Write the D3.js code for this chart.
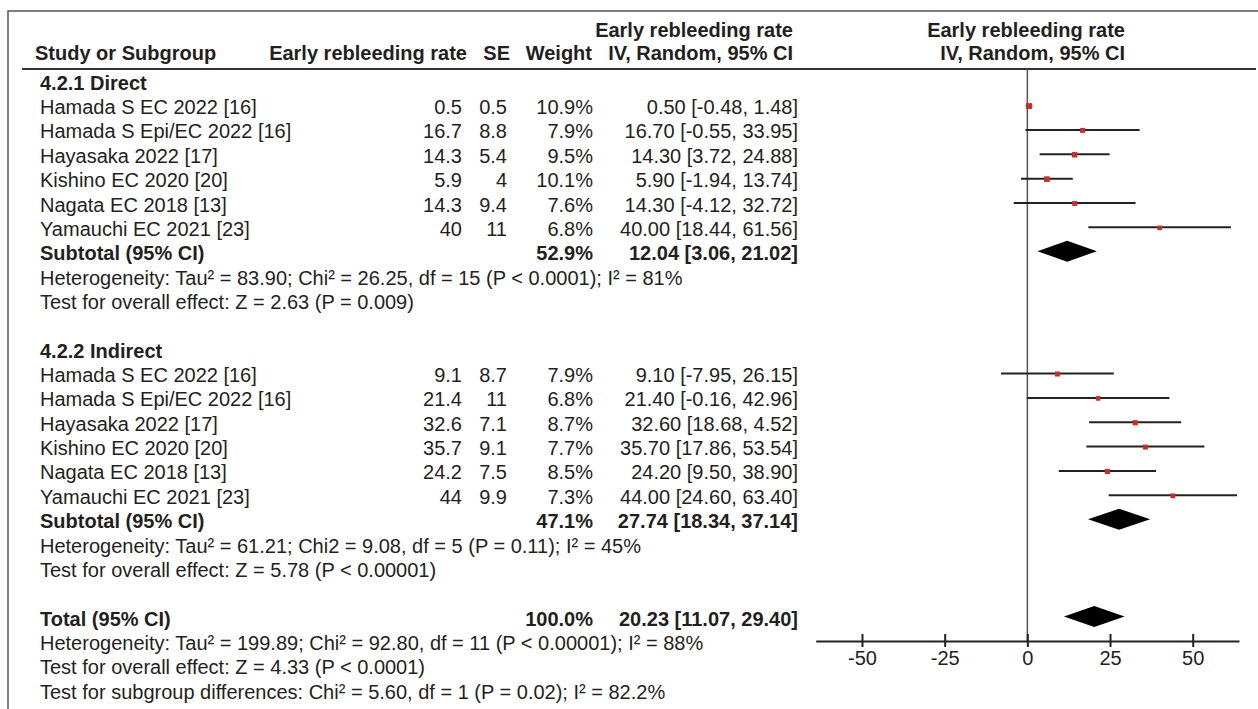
<!DOCTYPE html>
<html>
<head>
<meta charset="utf-8">
<script src="https://cdn.jsdelivr.net/npm/d3@7"></script>
<style>
  html, body { margin: 0; padding: 0; background: #fff; }
  svg { display: block; font-family: "Liberation Sans", Arial, sans-serif; }
</style>
</head>
<body>
<svg id="chart" width="1258" height="709"></svg>
<script>
// ---- Study data ----
const studies = [
  "Hamada S EC 2022 [16]",
  "Hamada S Epi/EC 2022 [16]",
  "Hayasaka 2022 [17]",
  "Kishino EC 2020 [20]",
  "Nagata EC 2018 [13]",
  "Yamauchi EC 2021 [23]"
];

// 4.2.1 Direct
const directRate   = [0.5, 16.7, 14.3, 5.9, 14.3, 40];
const directSE     = [0.5, 8.8, 5.4, 4, 9.4, 11];
const directWeight = [10.9, 7.9, 9.5, 10.1, 7.6, 6.8];
const directLow    = [-0.48, -0.55, 3.72, -1.94, -4.12, 18.44];
const directHigh   = [1.48, 33.95, 24.88, 13.74, 32.72, 61.56];
const directCiText = [
  "0.50 [-0.48, 1.48]", "16.70 [-0.55, 33.95]", "14.30 [3.72, 24.88]",
  "5.90 [-1.94, 13.74]", "14.30 [-4.12, 32.72]", "40.00 [18.44, 61.56]"
];

// 4.2.2 Indirect
const indirectRate   = [9.1, 21.4, 32.6, 35.7, 24.2, 44];
const indirectSE     = [8.7, 11, 7.1, 9.1, 7.5, 9.9];
const indirectWeight = [7.9, 6.8, 8.7, 7.7, 8.5, 7.3];
const indirectLow    = [-7.95, -0.16, 18.68, 17.86, 9.50, 24.60];
const indirectHigh   = [26.15, 42.96, 46.52, 53.54, 38.90, 63.40];
const indirectCiText = [
  "9.10 [-7.95, 26.15]", "21.40 [-0.16, 42.96]", "32.60 [18.68, 4.52]",
  "35.70 [17.86, 53.54]", "24.20 [9.50, 38.90]", "44.00 [24.60, 63.40]"
];

// Pooled estimates: Direct subtotal, Indirect subtotal, Total
const pooledLabel  = ["Subtotal (95% CI)", "Subtotal (95% CI)", "Total (95% CI)"];
const pooledEst    = [12.04, 27.74, 20.23];
const pooledLow    = [3.06, 18.34, 11.07];
const pooledHigh   = [21.02, 37.14, 29.40];
const pooledWeight = ["52.9%", "47.1%", "100.0%"];

const directNotes = [
  "Heterogeneity: Tau\u00B2 = 83.90; Chi\u00B2 = 26.25, df = 15 (P < 0.0001); I\u00B2 = 81%",
  "Test for overall effect: Z = 2.63 (P = 0.009)"
];
const indirectNotes = [
  "Heterogeneity: Tau\u00B2 = 61.21; Chi2 = 9.08, df = 5 (P = 0.11); I\u00B2 = 45%",
  "Test for overall effect: Z = 5.78 (P < 0.00001)"
];
const totalNotes = [
  "Heterogeneity: Tau\u00B2 = 199.89; Chi\u00B2 = 92.80, df = 11 (P < 0.00001); I\u00B2 = 88%",
  "Test for overall effect: Z = 4.33 (P < 0.0001)",
  "Test for subgroup differences: Chi\u00B2 = 5.60, df = 1 (P = 0.02); I\u00B2 = 82.2%"
];

const groupTitles = ["4.2.1 Direct", "4.2.2 Indirect"];
const axisTicks = [-50, -25, 0, 25, 50];

// ---- Layout ----
const svg = d3.select("#chart");
const ink = "#231f20";
const rowY = i => 82.7 + i * 24.36;   // cap-centre of row i
const base = 7;                        // baseline offset from cap-centre

const col = { study: 40, rate: 462, se: 507, weight: 593, ci: 798 };
const x = d3.scaleLinear().domain([-64, 64]).range([815.7, 1239]);
const axisY = 641;

// frame
svg.append("path")
  .attr("d", "M8,709 L8,11 L1258,11")
  .attr("fill", "none").attr("stroke", "#555").attr("stroke-width", 1.5);
svg.append("line")
  .attr("x1", 22).attr("x2", 1256).attr("y1", 69).attr("y2", 69)
  .attr("stroke", "#333").attr("stroke-width", 2);

function txt(str, xPos, y, opts = {}) {
  return svg.append("text")
    .attr("x", xPos).attr("y", y)
    .attr("text-anchor", opts.anchor || "start")
    .attr("font-size", opts.size || 20)
    .attr("font-weight", opts.bold ? "bold" : "normal")
    .attr("fill", ink)
    .text(str);
}

// headers
txt("Study or Subgroup", 35, 60, { bold: true });
txt("Early rebleeding rate", 467, 60, { bold: true, anchor: "end" });
txt("SE", 510, 60, { bold: true, anchor: "end" });
txt("Weight", 592, 60, { bold: true, anchor: "end" });
txt("Early rebleeding rate", 793, 37, { bold: true, anchor: "end" });
txt("IV, Random, 95% CI", 793, 60, { bold: true, anchor: "end" });
txt("Early rebleeding rate", 1125, 37, { bold: true, anchor: "end" });
txt("IV, Random, 95% CI", 1125, 60, { bold: true, anchor: "end" });

// zero reference line
svg.append("line")
  .attr("x1", x(0)).attr("x2", x(0)).attr("y1", 69).attr("y2", axisY)
  .attr("stroke", "#555").attr("stroke-width", 1.5);

const groups = [
  { start: 0, rate: directRate, se: directSE, weight: directWeight,
    low: directLow, high: directHigh, ciText: directCiText, notes: directNotes },
  { start: 11, rate: indirectRate, se: indirectSE, weight: indirectWeight,
    low: indirectLow, high: indirectHigh, ciText: indirectCiText, notes: indirectNotes }
];

function diamond(k, row) {
  const cy = rowY(row) - 2, hh = 10.5;
  const pts = [[x(pooledLow[k]), cy], [x(pooledEst[k]), cy - hh],
               [x(pooledHigh[k]), cy], [x(pooledEst[k]), cy + hh]];
  svg.append("path")
    .attr("d", d3.line()(pts) + "Z")
    .attr("fill", "#000");
}

groups.forEach((g, gi) => {
  txt(groupTitles[gi], col.study, rowY(g.start) + base, { bold: true });
  studies.forEach((name, j) => {
    const r = g.start + 1 + j;
    const y = rowY(r) + base;
    txt(name, col.study, y);
    txt(String(g.rate[j]), col.rate, y, { anchor: "end" });
    txt(String(g.se[j]), col.se, y, { anchor: "end" });
    txt(g.weight[j].toFixed(1) + "%", col.weight, y, { anchor: "end" });
    txt(g.ciText[j], col.ci, y, { anchor: "end" });

    const cy = rowY(r) - 1.5;
    svg.append("line")
      .attr("x1", x(g.low[j])).attr("x2", x(g.high[j]))
      .attr("y1", cy).attr("y2", cy)
      .attr("stroke", "#222").attr("stroke-width", 2);
    const s = 2.6 + g.weight[j] * 0.3;
    svg.append("rect")
      .attr("x", x(g.rate[j]) - s / 2).attr("y", cy - s / 2 + 0.5)
      .attr("width", s).attr("height", s)
      .attr("fill", "#d42a26");
  });
  const sr = g.start + 7;
  const ys = rowY(sr) + base;
  txt(pooledLabel[gi], col.study, ys, { bold: true });
  txt(pooledWeight[gi], col.weight, ys, { bold: true, anchor: "end" });
  txt(pooledEst[gi].toFixed(2) + " [" + pooledLow[gi].toFixed(2) + ", " + pooledHigh[gi].toFixed(2) + "]",
      col.ci, ys, { bold: true, anchor: "end" });
  diamond(gi, sr);
  g.notes.forEach((n, k) => txt(n, col.study, rowY(sr + 1 + k) + base));
});

// overall total
const tr = 22;
txt(pooledLabel[2], col.study, rowY(tr) + base, { bold: true });
txt(pooledWeight[2], col.weight, rowY(tr) + base, { bold: true, anchor: "end" });
txt(pooledEst[2].toFixed(2) + " [" + pooledLow[2].toFixed(2) + ", " + pooledHigh[2].toFixed(2) + "]",
    col.ci, rowY(tr) + base, { bold: true, anchor: "end" });
diamond(2, tr);
totalNotes.forEach((n, k) => txt(n, col.study, rowY(tr + 1 + k) + base));

// x axis with ticks crossing the line
const axG = svg.append("g").attr("transform", `translate(0,${axisY})`);
axG.call(d3.axisBottom(x).tickValues(axisTicks).tickSizeInner(6).tickSizeOuter(0)
  .tickPadding(4).tickFormat(d => String(d)));
const axTop = svg.append("g").attr("transform", `translate(0,${axisY})`);
axTop.call(d3.axisTop(x).tickValues(axisTicks).tickSizeInner(7).tickSizeOuter(0).tickFormat(""));
axTop.select(".domain").remove();
svg.selectAll(".domain").attr("stroke", "#222").attr("stroke-width", 2);
svg.selectAll(".tick line").attr("stroke", "#222").attr("stroke-width", 2);
axG.selectAll(".tick text")
  .attr("font-size", 20).attr("fill", ink)
  .attr("font-family", "'Liberation Sans', Arial, sans-serif");
</script>
</body>
</html>
